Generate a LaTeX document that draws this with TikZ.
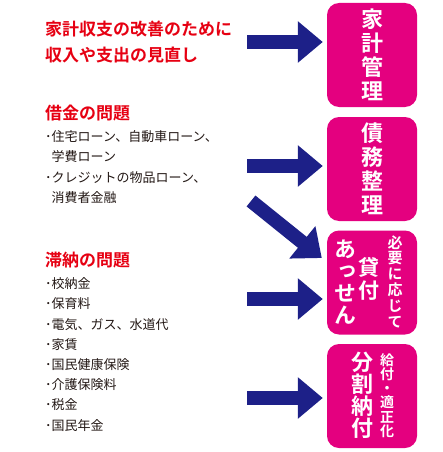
\documentclass[tikz,border=0pt]{standalone}
\usepackage{fontspec}
\setmainfont{Noto Sans CJK JP}[BoldFont={Noto Sans CJK JP Bold}]
\newfontfamily\tatefont{Noto Sans CJK JP Bold}[RawFeature=+vert]
\usetikzlibrary{arrows.meta,positioning,calc}
\definecolor{navy}{HTML}{1D2088}
\definecolor{kred}{HTML}{E60012}
\definecolor{pink}{HTML}{E4007F}
\definecolor{sumi}{HTML}{231815}

\begin{document}
\begin{tikzpicture}[x=1pt,y=-1pt,>={Triangle[width=40pt,length=25pt]},
                    inner sep=0pt]
  \tikzstyle{box}=[fill=pink,rounded corners=12pt,minimum width=90pt,minimum height=104pt]
  \tikzstyle{head}=[anchor=west,text=kred,align=left,font=\bfseries\fontsize{17}{26}\selectfont]
  \tikzstyle{item}=[anchor=north west,text=sumi,align=left,font=\fontsize{13}{20.2}\selectfont]
  \tikzstyle{tate}=[text=white,align=center]
  \tikzstyle{flow}=[->,draw=navy,line width=14pt,shorten >=4pt]

  \useasboundingbox (0,0) rectangle (442,452);

  % boxes on the right
  \node[box,tate,font=\tatefont\fontsize{22}{24}\selectfont] (kakei) at (372,55)   {家\\計\\管\\理};
  \node[box,tate,font=\tatefont\fontsize{22}{24}\selectfont] (saimu) at (372,169)  {債\\務\\整\\理};
  \node[box] (kashi) at (372,282.5) {};
  \node[box] (bunkatsu) at (372,396) {};

  \node[tate,font=\tatefont\fontsize{22}{22}\selectfont] (assen)    at (345,282.5) {あ\\っ\\せ\\ん};
  \node[tate,font=\tatefont\fontsize{21}{23}\selectfont] (kashitsuke) at (368.5,278.5) {貸\\付};
  \node[tate,font=\tatefont\fontsize{15}{15.8}\selectfont] (hitsuyou) at (395,281.5) {必\\要\\に\\応\\じ\\て};
  \node[tate,font=\tatefont\fontsize{22}{22}\selectfont] (bunkatsunofu) at (362.5,395) {分\\割\\納\\付};
  \node[tate,font=\tatefont\fontsize{14}{14.2}\selectfont] (kyufu) at (387,395.5) {給\\付\\・\\適\\正\\化};

  % texts on the left
  \node[head] (kaizen) at (45,42) {家計収支の改善のために\\収入や支出の見直し};
  \node[head] (shakkin) at (45,113) {借金の問題};
  \node[item] (loan) at (45,130.6) {･住宅ローン、自動車ローン、\\\phantom{･}学費ローン\\･クレジットの物品ローン、\\\phantom{･}消費者金融};
  \node[head] (tainou) at (45,260) {滞納の問題};
  \node[item] (list) at (45,277.6) {･校納金\\･保育料\\･電気、ガス、水道代\\･家賃\\･国民健康保険\\･介護保険料\\･税金\\･国民年金};

  % arrows
  \coordinate (a1) at (247,42);
  \coordinate (a2) at (247,166);
  \coordinate (a3) at (251,201);
  \coordinate (a4) at (247,299);
  \coordinate (a5) at (247,398);
  \draw[flow] (a1) -- (a1 -| kakei.west);
  \draw[flow] (a2) -- (a2 -| saimu.west);
  \draw[flow,shorten >=0pt] (a3) -- ($(kashi.west)+(-5,-24.5)$);
  \draw[flow] (a4) -- (a4 -| kashi.west);
  \draw[flow] (a5) -- (a5 -| bunkatsu.west);

\end{tikzpicture}
\end{document}
